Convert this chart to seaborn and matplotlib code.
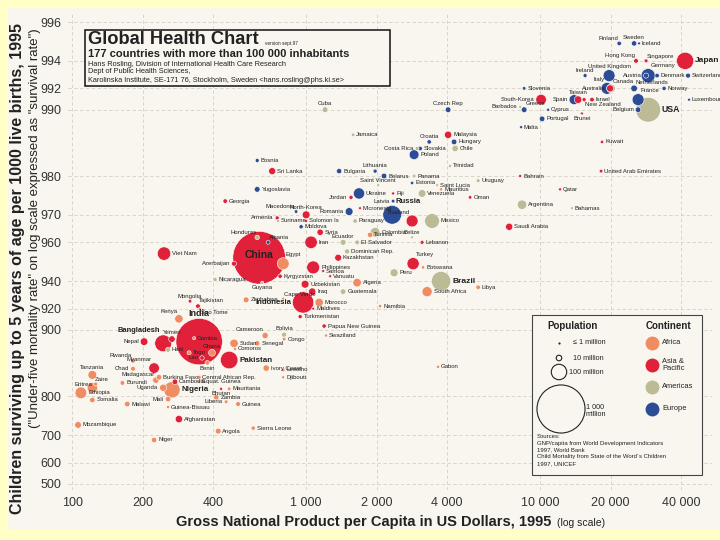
import numpy as np
import pandas as pd
import matplotlib
matplotlib.use("Agg")
import matplotlib.pyplot as plt
import seaborn as sns
from matplotlib.patches import Rectangle
from matplotlib.ticker import FixedLocator, FixedFormatter, NullLocator

# ---------------- data ----------------
AFRICA = ["Tanzania", "Eritrea", "Zaire", "Ethiopia", "Somalia", "Mozambique", "Rwanda", "Chad",
          "Burundi", "Malawi", "Madagascar", "Burkina Faso", "Uganda", "Nigeria", "Mali",
          "Guinea-Bissau", "Niger", "Kenya", "Gambia", "Togo", "Ghana", "Benin", "Sao Tome",
          "Zimbabwe", "Cameroon", "Congo", "Sudan", "Senegal", "Comoros", "Ivory Coast", "Lesotho",
          "Djibouti", "Central African Rep.", "Equat. Guinea", "Mauritania", "Zambia", "Liberia",
          "Guinea", "Angola", "Sierra Leone", "South Africa", "Namibia", "Botswana", "Libya",
          "Egypt", "Morocco", "Algeria", "Tunisia", "Swaziland", "Gabon", "Mauritius", "Cape Verde"]
AFRICA_GNP = [122, 126, 122, 109, 122, 106, 182, 182, 164, 172, 228, 235, 245, 267, 257, 257, 224,
              286, 332, 316, 396, 378, 352, 554, 668, 805, 492, 618, 497, 675, 798, 798, 349, 349,
              469, 413, 455, 512, 421, 594, 3289, 2070, 3162, 5436, 798, 1137, 1652, 1877, 1217,
              3664, 3775, 798]
AFRICA_SURV = [840, 824, 817, 807, 792, 730, 862, 850, 826, 783, 831, 836, 817, 813, 794, 776, 684,
               911, 891, 873, 873, 859, 920, 927, 894, 890, 885, 885, 878, 851, 848, 836, 836, 828,
               815, 798, 788, 783, 712, 721, 933, 922, 948, 936, 950, 925, 939, 963, 894, 853, 977, 928]
AFRICA_POP = [30, 3.5, 44, 56, 9.5, 16, 6, 6.4, 6, 10, 14, 10, 19, 112, 10, 1, 9, 27, 1.1, 4, 17,
              5.5, 0.13, 11, 13, 2.6, 27, 8.5, 0.6, 14, 2, 0.6, 3.3, 0.4, 2.3, 9, 2.7, 6.6, 11, 4.2,
              41, 1.5, 1.5, 5.4, 58, 27, 28, 9, 0.9, 1.1, 1.1, 0.4]

ASIA = ["China", "India", "Indonesia", "Pakistan", "Bangladesh", "Japan", "Viet Nam", "Philippines",
        "Thailand", "Iran", "Turkey", "South-Korea", "Myanmar", "Afghanistan", "Nepal", "Yemen",
        "Lao", "Cambodia", "Bhutan", "Uzbekistan", "Kazakhstan", "Syria", "North-Korea",
        "Sri Lanka", "Georgia", "Armenia", "Azerbaijan", "Tajikistan", "Kyrgyzstan",
        "Turkmenistan", "Iraq", "Jordan", "Lebanon", "Saudi Arabia", "Oman", "Bahrain", "Qatar",
        "United Arab Emirates", "Kuwait", "Malaysia", "Fiji", "Vanuatu", "Samoa", "Solomon Is",
        "Papua New Guinea", "Maldives", "Micronesia", "Hong Kong", "Singapore", "Taiwan",
        "Australia", "New Zealand", "Israel", "Brunei", "Mongolia"]
ASIA_GNP = [630, 349, 971, 469, 245, 41690, 247, 1072, 2838, 1050, 2866, 10100, 224, 286, 203,
            267, 359, 275, 433, 990, 1371, 1148, 1000, 716, 451, 752, 492, 345, 774, 943, 1062,
            1556, 3132, 7379, 5023, 8222, 12170, 18220, 18400, 4045, 2354, 1267, 1183, 1000,
            1194, 1072, 1700, 25700, 28380, 14530, 19920, 15420, 16670, 15100, 319]
ASIA_SURV = [953, 887, 925, 863, 885, 994, 955, 948, 968, 960, 950, 991, 851, 746, 887, 890, 866,
             828, 815, 938, 953, 964, 970, 981, 974, 969, 950, 922, 943, 913, 933, 975, 960, 966,
             975, 980, 977, 981, 986, 987, 976, 943, 946, 968, 904, 920, 972, 994, 994, 991, 992,
             991, 991, 989.6, 926]
ASIA_POP = [1200, 930, 193, 130, 120, 125, 74, 69, 58, 64, 61, 45, 45, 20, 22, 15, 5, 10, 0.6, 23,
            17, 14, 23, 18, 5.4, 3.8, 7.5, 5.8, 4.5, 4, 20, 4, 3, 19, 2, 0.6, 0.6, 2.4, 1.7, 20,
            0.8, 0.2, 0.2, 0.4, 4.3, 0.25, 0.1, 6, 3, 21, 18, 3.6, 5.5, 0.3, 2.5]

AMERICAS = ["USA", "Brazil", "Mexico", "Colombia", "Argentina", "Canada", "Peru", "Venezuela",
            "Chile", "Cuba", "Ecuador", "Guatemala", "Dominican Rep.", "Bolivia", "Haiti",
            "Honduras", "El Salvador", "Paraguay", "Nicaragua", "Costa Rica", "Panama", "Uruguay",
            "Jamaica", "Trinidad", "Guyana", "Suriname", "Belize", "Saint Vincent", "Saint Lucia",
            "Barbados", "Bahamas"]
AMERICAS_GNP = [28970, 3775, 3453, 1972, 8375, 20100, 2377, 3132, 4335, 1205, 1439, 1439, 1497,
                805, 257, 618, 1652, 1619, 408, 2980, 2894, 5436, 1588, 4125, 649, 759, 2838,
                2032, 3631, 8222, 13700]
AMERICAS_SURV = [990, 940, 968, 964, 973, 992, 945, 976, 985, 990, 960, 933, 956, 895, 877, 962,
                 960, 968, 941, 985, 980, 979, 987, 982, 939, 968, 962, 978, 978, 990.3, 972]
AMERICAS_POP = [263, 159, 92, 37, 35, 29, 24, 22, 14, 11, 11.5, 10, 8, 7.4, 7, 5.6, 5.6, 5, 4.4,
                3.4, 2.6, 3.2, 2.5, 1.3, 0.8, 0.4, 0.2, 0.1, 0.15, 0.26, 0.28]

EUROPE = ["Russia", "Germany", "United Kingdom", "France", "Italy", "Ukraine", "Spain", "Poland",
          "Romania", "Yugoslavia", "Czech Rep", "Netherlands", "Belgium", "Greece", "Portugal",
          "Hungary", "Belarus", "Bulgaria", "Sweden", "Austria", "Switzerland", "Denmark",
          "Finland", "Norway", "Slovakia", "Croatia", "Bosnia", "Moldova", "Lithuania", "Latvia",
          "Estonia", "Albania", "Macedonia", "Slovenia", "Ireland", "Iceland", "Luxembourg",
          "Cyprus", "Malta"]
EUROPE_GNP = [2332, 28970, 19720, 26240, 19320, 1683, 13970, 2894, 1527, 618, 4045, 25230, 26240,
              8550, 10200, 4290, 2153, 1384, 25230, 28380, 42890, 31620, 21780, 33880, 3069, 3357,
              618, 952, 1972, 2354, 2838, 688, 906, 8550, 15570, 26490, 43340, 10820, 8299]
EUROPE_SURV = [970, 993, 993, 991, 992, 976, 991, 984, 971, 977, 990, 992, 990, 990, 989, 986,
               980, 981, 995, 993, 993, 993, 995, 992, 985, 986, 983, 966, 981, 974, 978.5, 960,
               971, 992, 993, 995, 991, 990, 988]
EUROPE_POP = [148, 82, 58, 58, 57, 51, 39, 38, 23, 10.5, 10.3, 15.5, 10, 10.5, 10, 10, 10, 8.5,
              8.8, 8, 7, 5.2, 5.1, 4.4, 5.4, 4.8, 3.5, 4.4, 3.7, 2.5, 1.5, 3.3, 2, 2, 3.6, 0.27,
              0.4, 0.7, 0.4]

CONTINENTS = ["Africa", "Asia & Pacific", "Americas", "Europe"]
Y_TICKS = [996, 994, 992, 990, 980, 970, 960, 940, 920, 900, 800, 700, 600, 500]
X_TICKS = [100, 200, 400, 1000, 2000, 4000, 10000, 20000, 40000]
X_TICK_LABELS = ["100", "200", "400", "1 000", "2 000", "4 000", "10 000", "20 000", "40 000"]

# ---------------- style ----------------
PALETTE = {"Africa": "#EF8C62", "Asia & Pacific": "#E1213A",
           "Americas": "#BDBB95", "Europe": "#2D4C96"}
YELLOW = "#FFFFC6"
CREAM = "#F8F6EE"
TEXT = "#222222"
BOLD_LABELS = {"China": 7.5, "India": 6.5, "Indonesia": 5.6, "Pakistan": 5.8, "Bangladesh": 5.4,
               "Nigeria": 5.8, "Brazil": 6.0, "Russia": 5.6, "USA": 6.3, "Japan": 6.0}
LABEL_PLACE = {
    "Cuba": "a", "Finland": "al", "Sweden": "a", "Hong Kong": "al", "Singapore": "ar",
    "Ireland": "a", "United Kingdom": "a", "Germany": "ar", "Austria": "l", "Italy": "al",
    "Canada": "ar", "Australia": "l", "Taiwan": "a", "New Zealand": "br", "Brunei": "b",
    "Spain": "l", "South-Korea": "l", "Barbados": "l", "Greece": "ar", "Belgium": "l",
    "Netherlands": "ar", "France": "ar", "Czech Rep": "a", "Croatia": "a", "Costa Rica": "l",
    "Lithuania": "a", "Jordan": "l", "Romania": "l", "Latvia": "l", "Thailand": "al",
    "Russia": "ar", "Saint Vincent": "a", "Ecuador": "a", "North-Korea": "a", "Macedonia": "al",
    "Armenia": "l", "Honduras": "al", "Albania": "ar", "Azerbaijan": "l", "Egypt": "ar",
    "Guyana": "b", "Mongolia": "a", "Tajikistan": "ar", "Kenya": "al", "India": "a",
    "Bangladesh": "al", "Yemen": "a", "Nepal": "l", "Cameroon": "al", "Bolivia": "a",
    "Rwanda": "al", "Myanmar": "al", "Tanzania": "a", "Chad": "l", "Madagascar": "al",
    "Eritrea": "l", "Zaire": "ar", "Uganda": "l", "Mali": "l", "Bhutan": "b", "Liberia": "l",
    "Indonesia": "l", "China": "c", "Lao": "l", "Benin": "b", "Ghana": "a", "Turkey": "ar",
    "Belize": "a", "Sao Tome": "br", "Cape Verde": "ar",
}

sns.set_style("white")
SANS = ["Liberation Sans", "DejaVu Sans"]
plt.rcParams["font.family"] = SANS

frames = []
for cont, nm, g, s, p in [("Africa", AFRICA, AFRICA_GNP, AFRICA_SURV, AFRICA_POP),
                          ("Asia & Pacific", ASIA, ASIA_GNP, ASIA_SURV, ASIA_POP),
                          ("Americas", AMERICAS, AMERICAS_GNP, AMERICAS_SURV, AMERICAS_POP),
                          ("Europe", EUROPE, EUROPE_GNP, EUROPE_SURV, EUROPE_POP)]:
    frames.append(pd.DataFrame({"country": nm, "gnp": g, "survival": s,
                                "population": p, "continent": cont}))
df = pd.concat(frames, ignore_index=True).sort_values("population", ascending=False)

W, H = 720, 540
fig = plt.figure(figsize=(7.2, 5.4), dpi=100)
fig.patch.set_facecolor(YELLOW)
fig.add_artist(Rectangle((8 / W, 10 / H), 712 / W, 522 / H, transform=fig.transFigure,
                         facecolor=CREAM, edgecolor="none", zorder=0))

ax = fig.add_axes([68 / W, 50 / H, 644 / W, 478 / H])
ax.set_facecolor(CREAM)

S_MIN, S_PER_M = 4.0, 1.194
POP_MAX = 1200
sns.scatterplot(data=df, x="gnp", y="survival", hue="continent", hue_order=CONTINENTS,
                palette=PALETTE, size="population",
                sizes=(S_MIN, S_MIN + S_PER_M * POP_MAX), size_norm=(0, POP_MAX),
                edgecolor="white", linewidth=0.4, legend=False, ax=ax, zorder=3)


def fwd(y):
    y = np.asarray(y, dtype=float)
    return -np.log10(np.clip(1000.0 - y, 1e-6, None))


def inv(t):
    t = np.asarray(t, dtype=float)
    return 1000.0 - 10.0 ** (-t)


ax.set_xscale("log")
ax.set_yscale("function", functions=(fwd, inv))
ax.set_xlim(96, 54300)
ax.set_ylim(467, 996.4)
ax.xaxis.set_major_locator(FixedLocator(X_TICKS))
ax.xaxis.set_major_formatter(FixedFormatter(X_TICK_LABELS))
ax.xaxis.set_minor_locator(NullLocator())
ax.yaxis.set_major_locator(FixedLocator(Y_TICKS))
ax.yaxis.set_major_formatter(FixedFormatter([str(v) for v in Y_TICKS]))
ax.yaxis.set_minor_locator(NullLocator())
ax.tick_params(axis="both", length=0, labelsize=9, labelcolor="#333333")
ax.tick_params(axis="x", pad=5)
ax.tick_params(axis="y", pad=5)
ax.set_xlabel("")
ax.set_ylabel("")
for sp in ax.spines.values():
    sp.set_visible(False)
ax.grid(True, which="major", color="#d2cfc4", linestyle=(0, (4, 3)), linewidth=0.6, zorder=0)
ax.set_axisbelow(True)

# country labels
for row in df.itertuples():
    s = S_MIN + S_PER_M * row.population
    r = np.sqrt(s) / 2.0
    place = LABEL_PLACE.get(row.country, "r")
    if place == "r":
        off, ha, va = (r + 1, 0), "left", "center"
    elif place == "l":
        off, ha, va = (-(r + 1), 0), "right", "center"
    elif place == "a":
        off, ha, va = (0, r + 0.5), "center", "bottom"
    elif place == "b":
        off, ha, va = (0, -(r + 0.5)), "center", "top"
    elif place == "al":
        off, ha, va = (-0.4 * r, r + 0.3), "right", "bottom"
    elif place == "ar":
        off, ha, va = (0.4 * r, r + 0.3), "left", "bottom"
    elif place == "br":
        off, ha, va = (0.4 * r, -(r + 0.3)), "left", "top"
    else:
        off, ha, va = (0, 2), "center", "center"
    if row.country in BOLD_LABELS:
        fs, fw = BOLD_LABELS[row.country], "bold"
    else:
        fs, fw = 4.3, "normal"
    ax.annotate(row.country, (row.gnp, row.survival), xytext=off, textcoords="offset points",
                ha=ha, va=va, fontsize=fs, fontweight=fw, color=TEXT, zorder=4,
                annotation_clip=False)

# ---------------- overlay: titles, boxes, legend ----------------
ov = fig.add_axes([0, 0, 1, 1], zorder=5)
ov.set_xlim(0, W)
ov.set_ylim(H, 0)
ov.axis("off")

ov.text(18, 268, "Children surviving up to 5 years of age per 1000 live births, 1995",
        rotation=90, ha="center", va="center", fontsize=11.5, fontweight="bold", color=TEXT)
ov.text(35, 228, '("Under-five mortality rate" on log scale expressed as "survival rate")',
        rotation=90, ha="center", va="center", fontsize=9.5, color=TEXT)
ov.text(556, 522, "Gross National Product per Capita in US Dollars, 1995 ", ha="right",
        va="center", fontsize=10.5, fontweight="bold", color=TEXT)
ov.text(557, 523, "(log scale)", ha="left", va="center", fontsize=7.5, color=TEXT)

# title box
ov.add_patch(Rectangle((85, 30), 305, 56, facecolor=CREAM, edgecolor="#111111", lw=1.1))
ov.text(88, 39, "Global Health Chart", ha="left", va="center", fontsize=13.2,
        fontweight="bold", color=TEXT)
ov.text(265, 43, "version sept.97", ha="left", va="center", fontsize=3.4, color=TEXT)
ov.text(88, 54, "177 countries with more than 100 000 inhabitants", ha="left", va="center",
        fontsize=8, fontweight="bold", color=TEXT)
ov.text(88, 65, "Hans Rosling, Division of International Health Care Research", ha="left",
        va="center", fontsize=5.3, color=TEXT)
ov.text(88, 71.5, "Dept of Public Health Sciences,", ha="left", va="center", fontsize=5.3,
        color=TEXT)
ov.text(88, 80, "Karolinska Institute, SE-171 76, Stockholm, Sweden <hans.rosling@phs.ki.se>",
        ha="left", va="center", fontsize=5.3, color=TEXT)

# legend box
ov.add_patch(Rectangle((532, 315), 170, 160, facecolor=CREAM, edgecolor="#444444", lw=0.8))
ov.text(573, 326, "Population", ha="center", va="center", fontsize=7, fontweight="bold",
        color=TEXT)
ov.text(668, 326, "Continent", ha="center", va="center", fontsize=7, fontweight="bold",
        color=TEXT)
LEG_POPS = [1, 10, 100, 1000]
LEG_POP_TXT = ["\u2264 1 million", "10 million", "100 million", "1 000\nmillion"]
leg_xy = [(559, 343), (559, 358), (559, 372), (561, 409)]
leg_txt_xy = [(573, 343), (573, 358), (569, 372), (586, 411)]
for p, (x, y), t, (tx, ty) in zip(LEG_POPS, leg_xy, LEG_POP_TXT, leg_txt_xy):
    s = S_MIN + S_PER_M * p
    if p <= 1:
        ov.scatter([x], [y], s=2.5, color="#222222", lw=0)
    else:
        ov.scatter([x], [y], s=s, facecolor="none", edgecolor="#222222", lw=0.8)
    ov.text(tx, ty, t, ha="left", va="center", fontsize=5.2, color=TEXT, linespacing=0.9)
CONT_TXT = ["Africa", "Asia &\nPacific", "Americas", "Europe"]
for i, (c, t) in enumerate(zip(CONTINENTS, CONT_TXT)):
    y = 343 + 22 * i
    ov.scatter([652], [y], s=100, color=PALETTE[c], lw=0)
    ov.text(662, y, t, ha="left", va="center", fontsize=5.4, color=TEXT, linespacing=0.9)
SOURCES = ["Sources:", "GNP/capita from World Development Indicators", "1997, World Bank",
           "Child Mortality from State of the Word\u00b4s Children", "1997, UNICEF"]
for i, t in enumerate(SOURCES):
    ov.text(537, 437 + 6.6 * i, t, ha="left", va="center", fontsize=4.3, color=TEXT)

fig.savefig("out.png", dpi=100, facecolor=fig.get_facecolor())
